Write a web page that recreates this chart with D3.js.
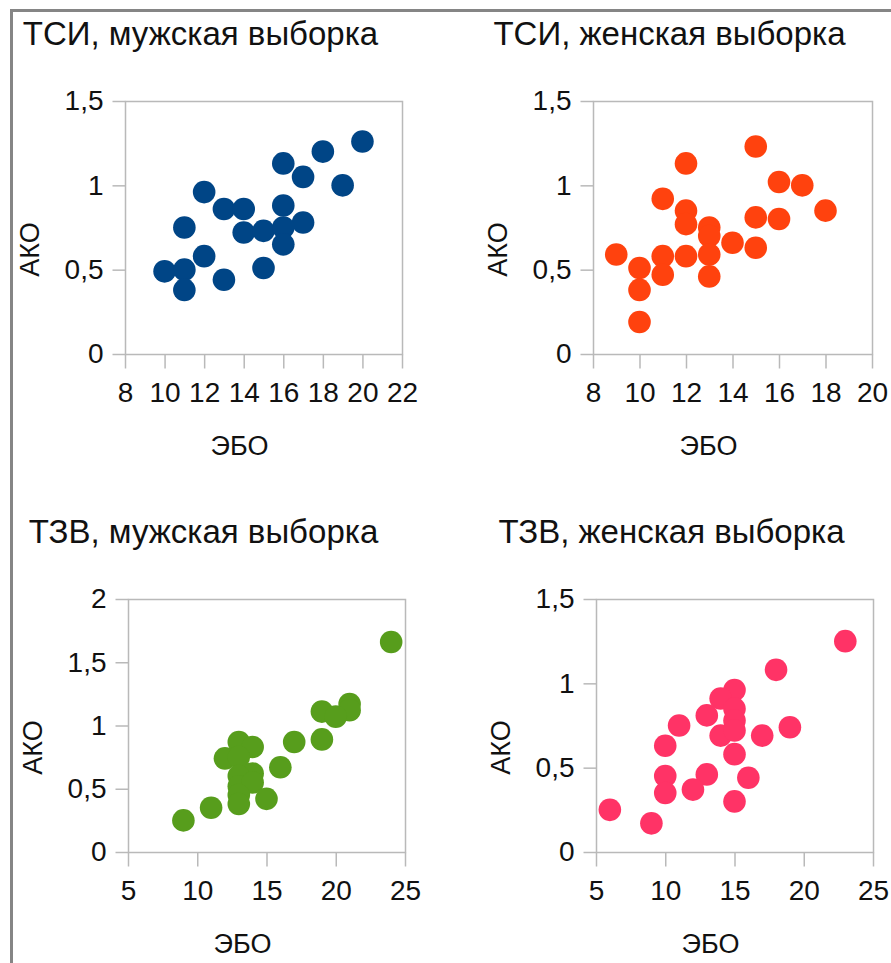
<!DOCTYPE html>
<html>
<head>
<meta charset="utf-8">
<script src="https://cdn.jsdelivr.net/npm/d3@7"></script>
<style>
  html, body { margin: 0; padding: 0; background: #fff; }
  svg { display: block; }
  text { font-family: "Liberation Sans", Arial, sans-serif; fill: #111; }
</style>
</head>
<body>
<svg id="chart" width="891" height="963"></svg>
<script>
// ТСИ, мужская выборка
const tsiMaleEbo = [20, 18, 16, 17, 19, 12, 13, 14, 16, 11, 14, 15, 17, 16, 16, 12, 10, 11, 15, 13, 11];
const tsiMaleAko = [1.26, 1.2, 1.13, 1.05, 1.0, 0.96, 0.86, 0.86, 0.88, 0.75, 0.72, 0.73, 0.78, 0.75, 0.65, 0.58, 0.49, 0.5, 0.51, 0.44, 0.38];

// ТСИ, женская выборка
const tsiFemaleEbo = [15, 12, 16, 17, 11, 18, 12, 12, 15, 16, 13, 13, 14, 15, 9, 11, 12, 13, 10, 11, 13, 10, 10];
const tsiFemaleAko = [1.23, 1.13, 1.02, 1.0, 0.92, 0.85, 0.85, 0.77, 0.81, 0.8, 0.75, 0.7, 0.66, 0.63, 0.59, 0.58, 0.58, 0.59, 0.51, 0.47, 0.46, 0.38, 0.19];

// ТЗВ, мужская выборка
const tzvMaleEbo = [24, 21, 21, 19, 20, 19, 17, 16, 13, 14, 12, 13, 14, 13, 13, 14, 13, 13, 15, 11, 9];
const tzvMaleAko = [1.66, 1.17, 1.12, 1.11, 1.07, 0.89, 0.87, 0.67, 0.87, 0.83, 0.74, 0.75, 0.62, 0.6, 0.52, 0.55, 0.45, 0.38, 0.42, 0.35, 0.25];

// ТЗВ, женская выборка
const tzvFemaleEbo = [23, 18, 15, 14, 15, 15, 13, 11, 19, 17, 14, 15, 10, 15, 10, 13, 16, 10, 12, 15, 6, 9];
const tzvFemaleAko = [1.25, 1.08, 0.96, 0.91, 0.85, 0.78, 0.81, 0.75, 0.74, 0.69, 0.69, 0.72, 0.63, 0.58, 0.45, 0.46, 0.44, 0.35, 0.37, 0.3, 0.25, 0.17];

// Tick values
const xTicksTsiMale = [8, 10, 12, 14, 16, 18, 20, 22];
const xTicksTsiFemale = [8, 10, 12, 14, 16, 18, 20];
const xTicksTzv = [5, 10, 15, 20, 25];
const yTicks15 = [0, 0.5, 1, 1.5];
const yTicks20 = [0, 0.5, 1, 1.5, 2];

// Titles and axis names
const panelTitles = ["ТСИ, мужская выборка", "ТСИ, женская выборка", "ТЗВ, мужская выборка", "ТЗВ, женская выборка"];
const xAxisName = "ЭБО";
const yAxisName = "АКО";

const colors = ["#004586", "#ff420e", "#579d1c", "#ff3366"];

// Russian number formatting: comma as decimal separator
const ru = d3.formatLocale({ decimal: ",", thousands: "\u00a0", grouping: [3], currency: ["", " ₽"] });
const fmt = ru.format("~g");

const panels = [
  { title: panelTitles[0], ebo: tsiMaleEbo, ako: tsiMaleAko, xDomain: [8, 22], yDomain: [0, 1.5], xTicks: xTicksTsiMale, yTicks: yTicks15, color: colors[0],
    rect: { left: 125, right: 402, top: 101, bottom: 354 } },
  { title: panelTitles[1], ebo: tsiFemaleEbo, ako: tsiFemaleAko, xDomain: [8, 20], yDomain: [0, 1.5], xTicks: xTicksTsiFemale, yTicks: yTicks15, color: colors[1],
    rect: { left: 593, right: 872, top: 101, bottom: 354 } },
  { title: panelTitles[2], ebo: tzvMaleEbo, ako: tzvMaleAko, xDomain: [5, 25], yDomain: [0, 2], xTicks: xTicksTzv, yTicks: yTicks20, color: colors[2],
    rect: { left: 128, right: 405, top: 599, bottom: 852 } },
  { title: panelTitles[3], ebo: tzvFemaleEbo, ako: tzvFemaleAko, xDomain: [5, 25], yDomain: [0, 1.5], xTicks: xTicksTzv, yTicks: yTicks15, color: colors[3],
    rect: { left: 596, right: 873, top: 599, bottom: 852 } }
];

const svg = d3.select("#chart");

// Outer frame (left and top edges)
svg.append("line").attr("x1", 11.5).attr("x2", 11.5).attr("y1", 9).attr("y2", 963)
  .attr("stroke", "#858585").attr("stroke-width", 3);
svg.append("line").attr("x1", 10).attr("x2", 891).attr("y1", 10.5).attr("y2", 10.5)
  .attr("stroke", "#858585").attr("stroke-width", 3);

const gridColor = "#b9b9b9";

panels.forEach(p => {
  const r = p.rect;
  const x = d3.scaleLinear().domain(p.xDomain).range([r.left, r.right]);
  const y = d3.scaleLinear().domain(p.yDomain).range([r.bottom, r.top]);
  const g = svg.append("g");

  // Plot area frame
  g.append("rect")
    .attr("x", r.left + 0.5).attr("y", r.top + 0.5)
    .attr("width", r.right - r.left).attr("height", r.bottom - r.top)
    .attr("fill", "none").attr("stroke", gridColor).attr("stroke-width", 1.5);

  // Y axis
  const yAxis = g.append("g")
    .attr("transform", `translate(${r.left + 0.5},0)`)
    .call(d3.axisLeft(y).tickValues(p.yTicks).tickFormat(fmt).tickSize(13).tickPadding(9));
  yAxis.select(".domain").remove();
  yAxis.selectAll(".tick line").attr("stroke", gridColor).attr("stroke-width", 1.5);
  yAxis.selectAll(".tick text").attr("font-size", 28).attr("fill", "#111")
    .attr("font-family", "'Liberation Sans', Arial, sans-serif");

  // X axis
  const xAxis = g.append("g")
    .attr("transform", `translate(0,${r.bottom + 0.5})`)
    .call(d3.axisBottom(x).tickValues(p.xTicks).tickFormat(fmt).tickSize(14).tickPadding(14));
  xAxis.select(".domain").remove();
  xAxis.selectAll(".tick line").attr("stroke", gridColor).attr("stroke-width", 1.5);
  xAxis.selectAll(".tick text").attr("font-size", 28).attr("fill", "#111")
    .attr("font-family", "'Liberation Sans', Arial, sans-serif");

  // Points
  g.append("g").selectAll("circle")
    .data(p.ebo.map((e, i) => ({ ebo: e, ako: p.ako[i] })))
    .join("circle")
    .attr("cx", d => x(d.ebo))
    .attr("cy", d => y(d.ako))
    .attr("r", 11.3)
    .attr("fill", p.color);

  // Panel title
  g.append("text")
    .attr("x", (r.left + r.right) / 2 - 63)
    .attr("y", r.top - 56)
    .attr("text-anchor", "middle")
    .attr("font-size", 33)
    .text(p.title);

  // X axis name
  g.append("text")
    .attr("x", (r.left + r.right) / 2 - 24)
    .attr("y", r.bottom + 101)
    .attr("text-anchor", "middle")
    .attr("font-size", 27)
    .text(xAxisName);

  // Y axis name
  const yx = r.left - 95, yy = (r.top + r.bottom) / 2 + 22;
  g.append("text")
    .attr("transform", `translate(${yx},${yy}) rotate(-90)`)
    .attr("text-anchor", "middle")
    .attr("dy", "0.35em")
    .attr("font-size", 27)
    .text(yAxisName);
});
</script>
</body>
</html>
